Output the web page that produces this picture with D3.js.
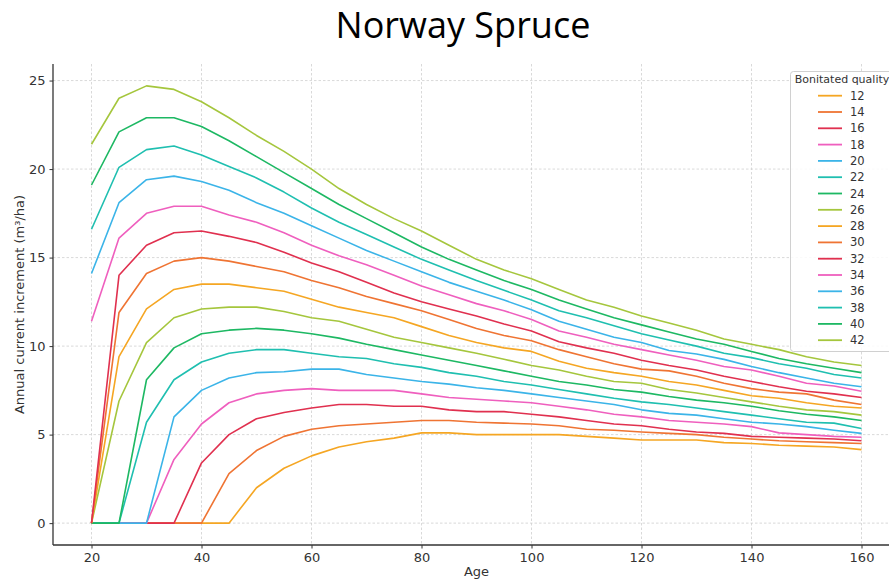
<!DOCTYPE html>
<html>
<head>
<meta charset="utf-8">
<script src="https://cdn.jsdelivr.net/npm/d3@7"></script>
<style>
  html, body { margin: 0; padding: 0; background: #fff; }
  svg { display: block; }
</style>
</head>
<body>
<svg id="chart" width="889" height="580"></svg>
<script>
// ---------------- DATA ----------------
const ages = [20,25,30,35,40,45,50,55,60,65,70,75,80,85,90,95,100,105,110,115,120,125,130,135,140,145,150,155,160];
const qualities = [12,14,16,18,20,22,24,26,28,30,32,34,36,38,40,42];

const q12 = [0,0,0,0,0,0,2.0,3.1,3.8,4.3,4.6,4.8,5.1,5.1,5.0,5.0,5.0,5.0,4.9,4.8,4.7,4.7,4.7,4.55,4.5,4.4,4.35,4.3,4.15];
const q14 = [0,0,0,0,0,2.8,4.1,4.9,5.3,5.5,5.6,5.7,5.8,5.8,5.7,5.65,5.6,5.5,5.3,5.25,5.15,5.07,5.0,4.85,4.75,4.65,4.6,4.55,4.5];
const q16 = [0,0,0,0,3.4,5.0,5.9,6.25,6.5,6.7,6.7,6.6,6.6,6.4,6.3,6.3,6.15,6.0,5.8,5.6,5.5,5.3,5.15,5.07,4.9,4.85,4.8,4.75,4.65];
const q18 = [0,0,0,3.6,5.6,6.8,7.3,7.5,7.6,7.5,7.5,7.5,7.3,7.1,7.0,6.9,6.8,6.6,6.4,6.15,6.0,5.8,5.7,5.6,5.45,5.1,5.0,4.9,4.85];
const q20 = [0,0,0,6.0,7.5,8.2,8.5,8.55,8.7,8.7,8.4,8.2,8.0,7.85,7.65,7.5,7.3,7.1,6.9,6.7,6.4,6.2,6.1,5.9,5.7,5.6,5.45,5.25,5.07];
const q22 = [0,0,5.7,8.1,9.1,9.6,9.8,9.8,9.6,9.4,9.3,9.0,8.8,8.5,8.3,8.0,7.8,7.55,7.3,7.05,6.85,6.7,6.5,6.3,6.1,5.9,5.7,5.65,5.35];
const q24 = [0,0,8.1,9.9,10.7,10.9,11.0,10.9,10.7,10.45,10.1,9.8,9.5,9.2,8.9,8.6,8.3,8.0,7.8,7.55,7.4,7.15,6.95,6.8,6.6,6.35,6.15,6.0,5.8];
const q26 = [0,6.9,10.2,11.6,12.1,12.2,12.2,11.95,11.6,11.4,10.95,10.5,10.2,9.9,9.6,9.26,8.9,8.65,8.3,8.0,7.9,7.55,7.35,7.1,6.85,6.6,6.4,6.3,6.1];
const q28 = [0,9.4,12.1,13.2,13.5,13.5,13.3,13.1,12.65,12.2,11.9,11.6,11.1,10.6,10.2,9.9,9.7,9.15,8.75,8.5,8.3,8.0,7.8,7.5,7.2,7.05,6.8,6.6,6.5];
const q30 = [0,11.9,14.1,14.8,15.0,14.8,14.5,14.2,13.7,13.3,12.8,12.4,12.0,11.5,11.0,10.6,10.3,9.8,9.4,9.0,8.7,8.6,8.3,7.9,7.6,7.4,7.3,6.95,6.7];
const q32 = [0,14.0,15.7,16.4,16.5,16.2,15.85,15.3,14.7,14.2,13.6,13.0,12.5,12.1,11.7,11.25,10.85,10.25,9.9,9.6,9.2,8.9,8.65,8.3,8.0,7.7,7.45,7.3,7.1];
const q34 = [11.4,16.1,17.5,17.9,17.9,17.4,17.0,16.4,15.7,15.1,14.6,14.0,13.4,12.9,12.4,12.0,11.5,10.85,10.5,10.1,9.8,9.5,9.2,8.85,8.65,8.3,7.9,7.75,7.45];
const q36 = [14.1,18.1,19.4,19.6,19.3,18.8,18.1,17.5,16.8,16.1,15.4,14.8,14.2,13.6,13.1,12.6,12.05,11.4,10.95,10.5,10.2,9.75,9.55,9.25,8.85,8.5,8.2,7.9,7.7];
const q38 = [16.6,20.1,21.1,21.3,20.8,20.15,19.5,18.7,17.8,17.0,16.3,15.6,14.9,14.3,13.7,13.15,12.6,12.0,11.6,11.15,10.7,10.35,10.0,9.6,9.35,9.0,8.75,8.4,8.2];
const q40 = [19.1,22.1,22.9,22.9,22.4,21.6,20.7,19.8,18.9,18.0,17.2,16.4,15.6,14.9,14.3,13.7,13.2,12.6,12.1,11.6,11.2,10.8,10.4,10.1,9.7,9.3,9.0,8.75,8.5];
const q42 = [21.4,24.0,24.7,24.5,23.8,22.9,21.9,21.0,20.0,18.9,18.0,17.2,16.5,15.7,14.9,14.3,13.8,13.2,12.6,12.2,11.7,11.3,10.9,10.4,10.1,9.8,9.4,9.1,8.9];

const seriesValues = [q12,q14,q16,q18,q20,q22,q24,q26,q28,q30,q32,q34,q36,q38,q40,q42];
const xTicks = [20,40,60,80,100,120,140,160];
const yTicks = [0,5,10,15,20,25];

const titleText = "Norway Spruce";
const xLabel = "Age";
const yLabel = "Annual current increment (m\u00B3/ha)";
const legendTitle = "Bonitated quality";

// ---------------- STYLE ----------------
const palette = ["#f5a623","#ef7433","#e0304f","#ef5fbe","#3bb4e8","#1fbfb0","#1db863","#a5c63d"];
const color = d3.scaleOrdinal().domain(qualities).range(qualities.map((q,i)=>palette[i % palette.length]));

const svg = d3.select("#chart");
const mLeft = 53, mRight = 900, mTop = 64, mBottom = 545;

const x = d3.scaleLinear().domain([13, 167]).range([mLeft, mRight]);
const y = d3.scaleLinear().domain([-1.235, 25.935]).range([mBottom, mTop]);

// grid
const grid = svg.append("g");
grid.selectAll("line.gx").data(xTicks).join("line")
  .attr("x1", d=>x(d)).attr("x2", d=>x(d)).attr("y1", mTop).attr("y2", mBottom)
  .attr("stroke", "#cfcfcf").attr("stroke-width", 0.8).attr("stroke-dasharray", "2.5,2");
grid.selectAll("line.gy").data(yTicks).join("line")
  .attr("x1", mLeft).attr("x2", mRight).attr("y1", d=>y(d)).attr("y2", d=>y(d))
  .attr("stroke", "#cfcfcf").attr("stroke-width", 0.8).attr("stroke-dasharray", "2.5,2");

// lines
const line = d3.line().x((d,i)=>x(ages[i])).y(d=>y(d));
svg.append("g").selectAll("path").data(seriesValues).join("path")
  .attr("d", d=>line(d))
  .attr("fill", "none")
  .attr("stroke", (d,i)=>color(qualities[i]))
  .attr("stroke-width", 1.6)
  .attr("stroke-linejoin", "round");

// axes
const xAxis = d3.axisBottom(x).tickValues(xTicks).tickSize(3.5).tickPadding(4);
const yAxis = d3.axisLeft(y).tickValues(yTicks).tickSize(3.5).tickPadding(4);
const gx = svg.append("g").attr("transform", `translate(0,${mBottom})`).call(xAxis);
const gy = svg.append("g").attr("transform", `translate(${mLeft},0)`).call(yAxis);
[gx, gy].forEach(g => {
  g.select(".domain").attr("stroke", "#333").attr("stroke-width", 1.3);
  g.selectAll(".tick line").attr("stroke", "#333").attr("stroke-width", 1);
  g.selectAll(".tick text").attr("fill", "#333")
    .style("font-family", "'DejaVu Sans', sans-serif").style("font-size", "13px");
});
gx.select(".domain").attr("d", `M${mLeft},0H${mRight}`);
gy.select(".domain").attr("d", `M0,${mTop}V${mBottom}`);

// labels
svg.append("text").attr("x", 463).attr("y", 38).attr("text-anchor", "middle")
  .style("font-family", "'Open Sans', sans-serif").style("font-size", "36px").attr("fill", "#000")
  .text(titleText);
svg.append("text").attr("x", (mLeft+mRight)/2).attr("y", 576).attr("text-anchor", "middle")
  .style("font-family", "'DejaVu Sans', sans-serif").style("font-size", "13px").attr("fill", "#333")
  .text(xLabel);
svg.append("text").attr("transform", `translate(24,${(mTop+mBottom)/2}) rotate(-90)`).attr("text-anchor", "middle")
  .style("font-family", "'DejaVu Sans', sans-serif").style("font-size", "13px").attr("fill", "#333")
  .text(yLabel);

// legend
const lg = svg.append("g");
lg.append("rect").attr("x", 790.5).attr("y", 71.5).attr("width", 104).attr("height", 280).attr("rx", 3)
  .attr("fill", "#fff").attr("fill-opacity", 0.85).attr("stroke", "#d0d0d0").attr("stroke-width", 1);
lg.append("text").attr("x", 842).attr("y", 83).attr("text-anchor", "middle")
  .style("font-family", "'DejaVu Sans', sans-serif").style("font-size", "11px").attr("fill", "#333")
  .text(legendTitle);
const items = lg.selectAll("g.item").data(qualities).join("g")
  .attr("transform", (d,i)=>`translate(0,${95.7 + i*16.3})`);
items.append("line").attr("x1", 818).attr("x2", 842).attr("y1", 0).attr("y2", 0)
  .attr("stroke", d=>color(d)).attr("stroke-width", 1.8);
items.append("text").attr("x", 850).attr("y", 4)
  .style("font-family", "'DejaVu Sans', sans-serif").style("font-size", "11.5px").attr("fill", "#333")
  .text(d=>d);
</script>
</body>
</html>
